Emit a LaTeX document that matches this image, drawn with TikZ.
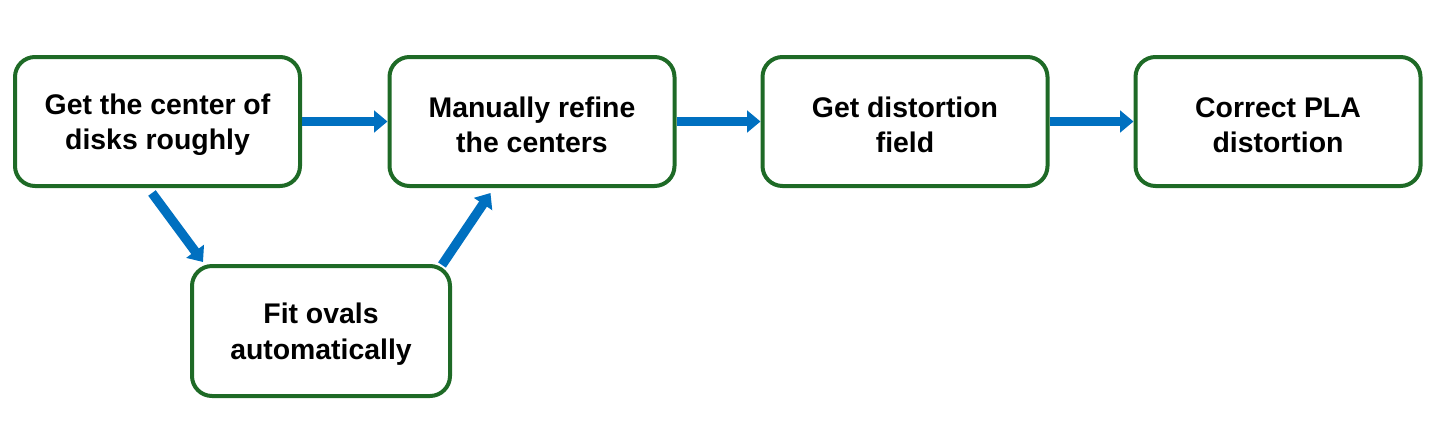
\documentclass[tikz,border=0pt]{standalone}
\usepackage{fontspec}
\setmainfont{Liberation Sans}
\usetikzlibrary{arrows.meta,calc}
\definecolor{boxgreen}{RGB}{30,106,38}
\definecolor{arrblue}{RGB}{0,112,192}
\newcommand{\topstrut}{\rule{0pt}{20pt}}
\begin{document}
\begin{tikzpicture}[x=0.75pt,y=-0.75pt,
  stepbox/.style={draw=boxgreen, line width=3pt, rounded corners=15pt, fill=white,
    align=center, inner sep=0pt, font=\bfseries\fontsize{21.3}{26.5}\selectfont},
  flow/.style={draw=arrblue, line width=7pt, -{Triangle[length=10pt,width=16pt]}}]
\useasboundingbox (0,0) rectangle (1437,440);
\node[stepbox, minimum width=213.75pt, minimum height=96.75pt] (b1) at (157.5,121.5) {\topstrut Get the center of\\disks roughly};
\node[stepbox, minimum width=213.75pt, minimum height=96.75pt] (b2) at (532,121.5) {\topstrut Manually refine\\the centers};
\node[stepbox, minimum width=213.75pt, minimum height=96.75pt] (b3) at (905,121.5) {\topstrut Get distortion\\field};
\node[stepbox, minimum width=213.75pt, minimum height=96.75pt] (b4) at (1278,121.5) {\topstrut Correct PLA\\distortion};
\node[stepbox, minimum width=193.5pt, minimum height=97.5pt] (b5) at (321,331) {\topstrut Fit ovals\\automatically};
\draw[flow] (b1.east) -- (b2.west);
\draw[flow] (b2.east) -- (b3.west);
\draw[flow] (b3.east) -- (b4.west);
\draw[flow] ($(b1.south)+(-5.5,5)$) -- ($(b5.north west)+(13,-2)$);
\draw[flow] ($(b5.north east)+(-10,1)$) -- ($(b2.south west)+(103,5)$);
\end{tikzpicture}
\end{document}
